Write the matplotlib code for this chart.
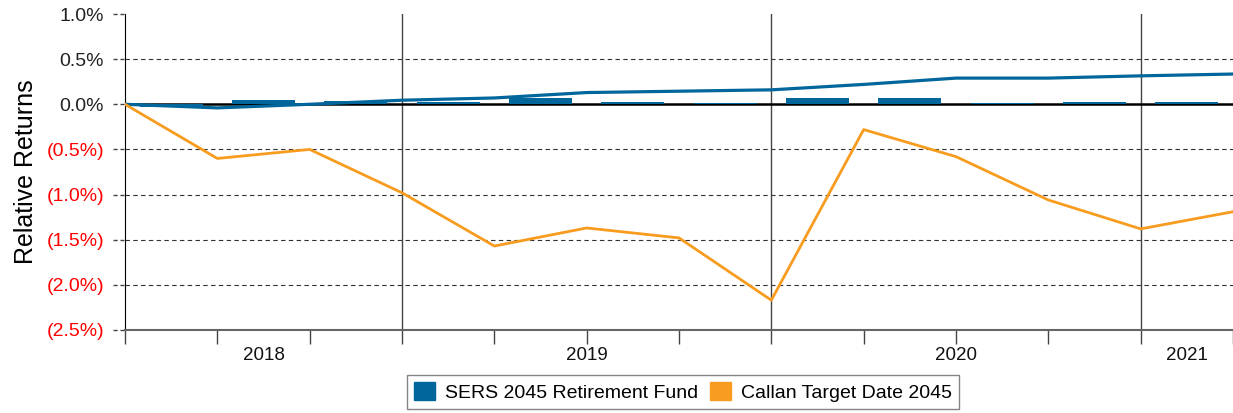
import matplotlib.pyplot as plt
import matplotlib.transforms as mtransforms
from matplotlib.patches import Patch

plt.rcParams['font.family'] = ['Liberation Sans', 'DejaVu Sans']

# Quarter-end points (0 = start of the period) and quarterly excess returns
quarters = list(range(13))
sers_cum = [0.0, -0.04, 0.0, 0.045, 0.07, 0.13, 0.145, 0.16, 0.22, 0.29, 0.29, 0.315, 0.335]
callan_cum = [0.0, -0.60, -0.50, -0.98, -1.57, -1.37, -1.48, -2.17, -0.28, -0.58, -1.06, -1.38, -1.19]
sers_qtr = [-0.035, 0.05, 0.035, 0.03, 0.075, 0.022, 0.016, 0.075, 0.07, 0.012, 0.03, 0.03]
year_labels = ['2018', '2019', '2020', '2021']
year_centers = [1.5, 5, 9, 11.5]
year_breaks = [3, 7, 11]
y_ticks = [1.0, 0.5, 0.0, -0.5, -1.0, -1.5, -2.0, -2.5]

blue = '#00669c'
orange = '#f89c1f'

fig = plt.figure(figsize=(12.33, 4.13), dpi=100)
ax = fig.add_axes([125 / 1233, 1 - 330 / 413, 1108 / 1233, 316 / 413])

# dashed grid, solid zero line
for y in y_ticks[1:-1]:
    if y == 0:
        continue
    ax.axhline(y, color='#333333', lw=0.8, ls=(0, (4, 3)), zorder=1)
ax.axhline(0, color='black', lw=1.8, zorder=2)

# year separators
for xb in year_breaks:
    ax.axvline(xb, color='#444444', lw=1, zorder=1)

bar_x = [q + 0.5 for q in quarters[:-1]]
ax.bar(bar_x, sers_qtr, width=0.68, color=blue, zorder=3)
ax.plot(quarters, sers_cum, color=blue, lw=2.3, zorder=4)
ax.plot(quarters, callan_cum, color=orange, lw=2.0, zorder=5)

ax.set_xlim(0, 12)
ax.set_ylim(-2.5, 1.0)

for s in ['top', 'right']:
    ax.spines[s].set_visible(False)
ax.spines['left'].set_color('black')
ax.spines['bottom'].set_color('#666666')
ax.spines['bottom'].set_linewidth(1.5)

# x axis: quarter ticks, year labels in between
ax.set_xticks(quarters)
ax.set_xticklabels([''] * len(quarters))
ax.tick_params(axis='x', which='major', length=10, color='#444444', width=1)
xtrans = mtransforms.blended_transform_factory(ax.transData, ax.transAxes)
for xc, yr in zip(year_centers, year_labels):
    ax.text(xc, -0.08, yr, transform=xtrans, ha='center', va='center',
            fontsize=13.5, color='#111111')

# y axis: percent labels, negatives red in parentheses
ax.set_yticks(y_ticks)
labels = []
for y in y_ticks:
    if y < 0:
        labels.append(f'({abs(y):.1f}%)')
    else:
        labels.append(f'{y:.1f}%')
ax.set_yticklabels(labels, fontsize=14)
for lbl, y in zip(ax.get_yticklabels(), y_ticks):
    lbl.set_color('#ff0000' if y < 0 else '#222222')
ax.tick_params(axis='y', length=0, pad=15)
trans = mtransforms.blended_transform_factory(ax.transAxes, ax.transData)
for y in y_ticks:
    ax.plot([-0.011, -0.001], [y, y], transform=trans, color='#444444',
            lw=1, ls=(0, (3, 2)), clip_on=False)

ax.set_ylabel('Relative Returns', fontsize=18, labelpad=6)

handles = [Patch(facecolor=blue, edgecolor=blue), Patch(facecolor=orange, edgecolor=orange)]
fig.legend(handles, ['SERS 2045 Retirement Fund', 'Callan Target Date 2045'],
           loc='upper center', bbox_to_anchor=(0.554, 0.092), ncol=2, fontsize=14,
           frameon=True, fancybox=False, edgecolor='#666666', handlelength=1.1,
           handleheight=1.1, handletextpad=0.5, columnspacing=0.6, borderpad=0.35,
           borderaxespad=0)

fig.savefig('out.png', dpi=100)
